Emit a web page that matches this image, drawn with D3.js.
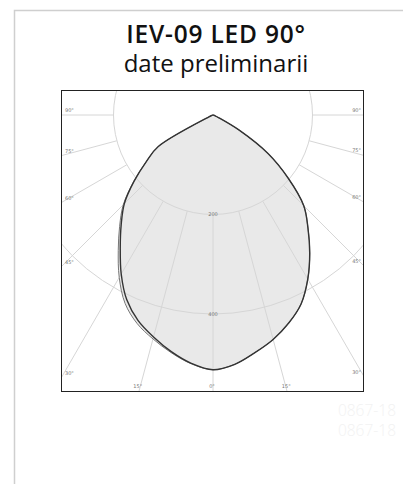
<!DOCTYPE html>
<html><head><meta charset="utf-8">
<script src="https://cdn.jsdelivr.net/npm/d3@7"></script>
<style>html,body{margin:0;padding:0;background:#fff;}svg{display:block;}</style>
</head><body>
<script>
// ---- data ----
const titleLines = ["IEV-09 LED 90°", "date preliminarii"];
const watermark = ["0867-18", "0867-18"];
const angles = [0,5,10,15,20,25,30,35,40,45,50,55,60,65,70,75,80,85,90];
// curve A (dark) : right half and left half (cd/klm)
const aRight = [512,503,485,467,445,419,381,339,297,258,197,135,60,12,4,2,1,0,0];
const aLeft  = [512,501,483,462,440,410,369,325,287,252,207,164,127,10,3,1,0,0,0];
// curve B (lighter) : right half and left half
const bRight = [512,503,485,467,445,419,381,339,297,258,197,135,60,12,4,2,1,0,0];
const bLeft  = [512,502,485,466,446,418,377,332,292,255,208,164,127,10,3,1,0,0,0];
const gridAngles = [0,15,30,45,60,75,90];
const ringValues = [200,400];

const W = 403, H = 484;
const svg = d3.select("body").append("svg").attr("width", W).attr("height", H);

// card
svg.append("rect").attr("x",14.5).attr("y",10.5).attr("width",600).attr("height",700)
  .attr("fill","none").attr("stroke","#cfcfcf").attr("stroke-width",1.5);

// title (one text, two lines)
const title = svg.append("text").attr("text-anchor","middle")
  .attr("font-family","Open Sans, sans-serif").attr("fill","#111");
title.selectAll("tspan").data(titleLines).join("tspan")
  .attr("x",216).attr("y",(d,i)=>i===0?43:72)
  .attr("font-weight",(d,i)=>i===0?600:400)
  .attr("font-size",(d,i)=>i===0?24.5:24)
  .attr("letter-spacing",(d,i)=>i===0?0.8:0)
  .text(d=>d);

// frame
const fx0=61, fy0=90, fx1=364, fy1=392;
const cx=213, cy=115;
svg.append("clipPath").attr("id","clip").append("rect")
  .attr("x",fx0).attr("y",fy0).attr("width",fx1-fx0).attr("height",fy1-fy0);

const r = d3.scaleLinear().domain([0,400]).range([0,199]);
const g = svg.append("g").attr("clip-path","url(#clip)");
const p = g.append("g").attr("transform",`translate(${cx},${cy})`);

const rad = Math.PI/180;
function pts(right,left){
  const out=[];
  for(let i=angles.length-1;i>=0;i--) out.push([Math.PI-angles[i]*rad, r(right[i])]);
  for(let i=1;i<angles.length;i++) out.push([Math.PI+angles[i]*rad, r(left[i])]);
  return out;
}
const line = d3.lineRadial().angle(d=>d[0]).radius(d=>d[1]).curve(d3.curveCatmullRomClosed.alpha(0.5));

// fill
p.append("path").attr("d",line(pts(bRight,bLeft))).attr("fill","#e9e9e9").attr("stroke","none");

// grid rings
p.selectAll("circle.ring").data(ringValues).join("circle")
  .attr("r",d=>r(d)).attr("fill","none").attr("stroke","#d6d6d6").attr("stroke-width",1);
// radial lines
const allAng = [];
gridAngles.forEach(a=>{ allAng.push(a); if(a!==0) allAng.push(-a); });
p.selectAll("line.spoke").data(allAng).join("line")
  .attr("x1",d=>r(200)*Math.sin(d*rad)).attr("y1",d=>r(200)*Math.cos(d*rad))
  .attr("x2",d=>600*Math.sin(d*rad)).attr("y2",d=>600*Math.cos(d*rad))
  .attr("stroke","#d6d6d6").attr("stroke-width",1);

// curves
p.append("path").attr("d",line(pts(bRight,bLeft))).attr("fill","none").attr("stroke","#777").attr("stroke-width",1);
p.append("path").attr("d",line(pts(aRight,aLeft))).attr("fill","none").attr("stroke","#333").attr("stroke-width",1.4);

// ring labels
svg.selectAll("text.rl").data(ringValues).join("text")
  .attr("x",cx).attr("y",d=>cy+r(d)+1.5).attr("text-anchor","middle")
  .attr("font-family","DejaVu Sans, sans-serif").attr("font-size",5).attr("fill","#777")
  .text(d=>d);

// angle labels at frame edges
allAng.forEach(a=>{
  const s=Math.sin(a*rad), c=Math.cos(a*rad);
  let t = Infinity, side=null;
  if (s<0){ const ts=(fx0-cx)/s; if(ts<t){t=ts;side="L";} }
  if (s>0){ const ts=(fx1-cx)/s; if(ts<t){t=ts;side="R";} }
  if (c>0){ const tb=(fy1-cy)/c; if(tb<t){t=tb;side="B";} }
  const xi=cx+t*s, yi=cy+t*c;
  const lab = Math.abs(a)+"°";
  let x,y,anchor;
  if(side==="L"){x=fx0+4;y=yi-3;anchor="start";}
  else if(side==="R"){x=fx1-3;y=yi-3;anchor="end";}
  else {x=xi-1;y=fy1-4;anchor="middle";}
  svg.append("text").attr("x",x).attr("y",y).attr("text-anchor",anchor)
    .attr("font-family","DejaVu Sans, sans-serif").attr("font-size",5).attr("fill","#777").text(lab);
});

svg.append("rect").attr("x",fx0+0.5).attr("y",fy0+0.5).attr("width",fx1-fx0-1).attr("height",fy1-fy0-1)
  .attr("fill","none").attr("stroke","#222").attr("stroke-width",1);

// watermark
svg.selectAll("text.wm").data(watermark).join("text")
  .attr("x",396).attr("y",(d,i)=>416+i*20).attr("text-anchor","end")
  .attr("font-family","Open Sans, sans-serif").attr("font-weight",300)
  .attr("font-size",15.5).attr("fill","#f2f2f2").text(d=>d);
</script>
</body></html>
